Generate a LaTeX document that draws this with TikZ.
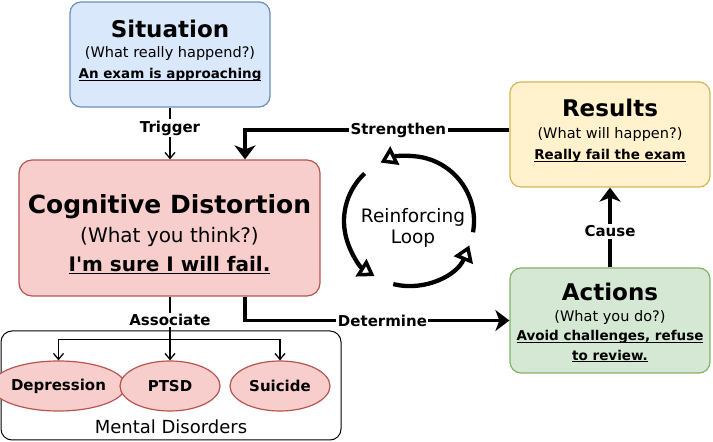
\documentclass[tikz,border=0pt]{standalone}
\usepackage{fontspec}
\setmainfont{DejaVu Sans}
\usepackage{xcolor}
\usetikzlibrary{arrows.meta,positioning,calc,shapes.geometric}
\definecolor{bluefill}{HTML}{DAE8FC}
\definecolor{blueline}{HTML}{6C8EBF}
\definecolor{redfill}{HTML}{F8CECC}
\definecolor{redline}{HTML}{B85450}
\definecolor{yellowfill}{HTML}{FFF2CC}
\definecolor{yellowline}{HTML}{D6B656}
\definecolor{greenfill}{HTML}{D5E8D4}
\definecolor{greenline}{HTML}{82B366}
\newcommand\fsz[1]{\fontsize{#1}{#1}\selectfont}
\newcommand\undl[1]{\setbox0\hbox{#1}\rlap{\rule[-2.2pt]{\wd0}{1pt}}\box0}

\begin{document}
\begin{tikzpicture}[x=1pt,y=1pt,
    card/.style={draw, line width=1.2pt, rounded corners=11pt, minimum width=200pt, minimum height=105pt},
    title/.style={font=\fsz{23}\bfseries},
    note/.style={font=\fsz{14.5}},
    fact/.style={font=\fsz{13.5}\bfseries},
    lbl/.style={font=\fsz{15}\bfseries, fill=white, inner sep=1.5pt},
    link/.style={line width=1.3pt, -{Straight Barb[length=6pt,width=10pt]}},
    flow/.style={line width=3.8pt, -{Stealth[length=14pt,width=21pt,inset=4pt]}},
    loopar/.style={line width=4.3pt, line join=round, -{Triangle[open,length=16pt,width=20pt,line width=3.5pt]}},
    disorder/.style={ellipse, draw=redline, fill=redfill, line width=1.2pt, minimum width=100pt, minimum height=50pt, inner sep=0pt, font=\fsz{15}\bfseries}]
    \useasboundingbox (0,0) rectangle (713,442);

    \node[card, draw=blueline, fill=bluefill] (situation) at (170,387.5) {};
    \node[title] (sittitle) at ([yshift=25.5pt]situation.center) {Situation};
    \node[note] (sitnote) at ([yshift=0.5pt]situation.center) {(What really happend?)};
    \node[fact] (sitfact) at ([yshift=-20.5pt]situation.center) {\undl{An exam is approaching}};

    \node[card, draw=redline, fill=redfill, minimum width=301pt, minimum height=136pt, rounded corners=13pt] (cognitive) at (169.5,214) {};
    \node[font=\fsz{25}\bfseries] (cogtitle) at ([yshift=21pt]cognitive.center) {Cognitive Distortion};
    \node[font=\fsz{20}] (cognote) at ([yshift=-9pt]cognitive.center) {(What you think?)};
    \node[font=\fsz{20}\bfseries] (cogfact) at ([yshift=-37pt]cognitive.center) {\undl{I\textquotesingle m sure I will fail.}};

    \node[card, draw=yellowline, fill=yellowfill] (results) at (610,307.5) {};
    \node[title] (restitle) at ([yshift=26.5pt]results.center) {Results};
    \node[note] (resnote) at ([yshift=-0.5pt]results.center) {(What will happen?)};
    \node[fact] (resfact) at ([yshift=-21.5pt]results.center) {\undl{Really fail the exam}};

    \node[card, draw=greenline, fill=greenfill] (actions) at (610,121.5) {};
    \node[title] (acttitle) at ([yshift=28.5pt]actions.center) {Actions};
    \node[note] (actnote) at ([yshift=2.5pt]actions.center) {(What you do?)};
    \node[fact] (actfact) at ([yshift=-16.5pt]actions.center) {\undl{Avoid challenges, refuse}};
    \node[fact] (actfactb) at ([yshift=-35.5pt]actions.center) {\undl{to review.}};

    \node[draw, line width=1pt, rounded corners=11pt, minimum width=340pt, minimum height=109pt] (disorders) at (171,56.5) {};
    \node[disorder] (depression) at (58.5,56) {Depression};
    \node[disorder] (ptsd) at (170,56) {PTSD};
    \node[disorder] (suicide) at (280,56) {Suicide};
    \node[font=\fsz{18}] (dislabel) at (171,15) {Mental Disorders};

    \coordinate (loopc) at (409,221);
    \node[font=\fontsize{18.5}{21}\selectfont, align=center] (loop) at (413,214.5) {Reinforcing\\Loop};
    \draw[loopar] ([shift={(-10:65)}]loopc) arc[start angle=-10, end angle=116, radius=65];
    \draw[loopar] ([shift={(133:65)}]loopc) arc[start angle=133, end angle=238, radius=65];
    \draw[loopar] ([shift={(256:65)}]loopc) arc[start angle=256, end angle=338, radius=65];

    \draw[link] (situation.south) -- node[lbl, pos=0.4] (trigger) {Trigger} (situation.south |- cognitive.north);
    \draw[flow] ([yshift=4.5pt]results.west) -| node[lbl, pos=0.21] (strengthen) {Strengthen} ([xshift=75.5pt]cognitive.north);
    \draw[flow] ([xshift=75.5pt]cognitive.south) |- node[lbl, pos=0.76] (determine) {Determine} (actions.west);
    \draw[flow] (actions.north) -- node[lbl, pos=0.45] (cause) {Cause} (results.south);

    \coordinate (split) at ($(ptsd.north)+(0,21)$);
    \draw[line width=1.3pt] (cognitive.south -| split) -- node[lbl, pos=0.55] (associate) {Associate} (split);
    \draw[link] (split) -- (ptsd.north);
    \draw[link] (split) -| (depression.north);
    \draw[link] (split) -| (suicide.north);
\end{tikzpicture}
\end{document}
